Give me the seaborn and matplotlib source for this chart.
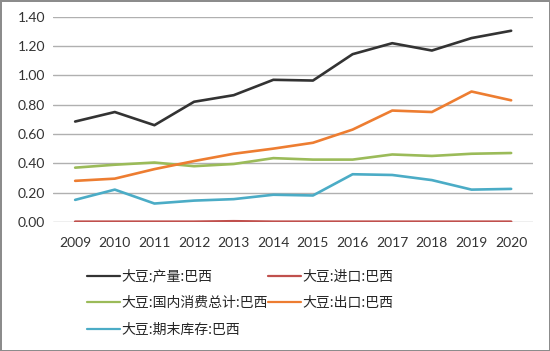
import numpy as np
import pandas as pd
import matplotlib
matplotlib.use("Agg")
import matplotlib.pyplot as plt
import seaborn as sns

# --- Data ---
years = [2009, 2010, 2011, 2012, 2013, 2014, 2015, 2016, 2017, 2018, 2019, 2020]
production = [0.685, 0.75, 0.66, 0.82, 0.865, 0.97, 0.965, 1.145, 1.22, 1.17, 1.255, 1.305]
imports = [0.001, 0.001, 0.001, 0.001, 0.004, 0.001, 0.001, 0.001, 0.001, 0.001, 0.001, 0.001]
consumption = [0.37, 0.39, 0.405, 0.38, 0.395, 0.435, 0.425, 0.425, 0.46, 0.45, 0.465, 0.47]
exports = [0.28, 0.295, 0.36, 0.415, 0.465, 0.50, 0.54, 0.63, 0.76, 0.75, 0.89, 0.83]
stocks = [0.15, 0.22, 0.125, 0.145, 0.155, 0.185, 0.18, 0.325, 0.32, 0.285, 0.22, 0.225]

series_names = ["大豆:产量:巴西", "大豆:进口:巴西", "大豆:国内消费总计:巴西",
                "大豆:出口:巴西", "大豆:期末库存:巴西"]
series_values = [production, imports, consumption, exports, stocks]
colors = ["#333333", "#c0504d", "#9bbb59", "#ed7d31", "#4bacc6"]

sns.set_theme(style="white")
plt.rcParams['font.family'] = ['Noto Sans CJK SC', 'DejaVu Sans']

rows = []
for name, vals in zip(series_names, series_values):
    for i, (yr, v) in enumerate(zip(years, vals)):
        rows.append({'idx': i, 'year': str(yr), 'value': v, 'series': name})
df = pd.DataFrame(rows)

fig = plt.figure(figsize=(5.5, 3.51), dpi=100, edgecolor="#8c8c8c", linewidth=2)
ax = fig.add_axes([0.097, 0.368, 0.872, 0.584])

sns.lineplot(data=df, x='idx', y='value', hue='series', hue_order=series_names,
             palette=colors, linewidth=1.9, ax=ax, legend=False)

ax.set_xlim(-0.55, len(years) - 0.45)
ax.set_ylim(0, 1.40)
ax.set_yticks(np.arange(0, 1.41, 0.2))
ax.set_yticklabels([f"{v:.2f}" for v in np.arange(0, 1.41, 0.2)], fontsize=10,
                   family=['Lato', 'DejaVu Sans'], color="#333333")
ax.set_xticks(range(len(years)))
ax.set_xticklabels([str(y) for y in years], fontsize=10,
                   family=['Lato', 'DejaVu Sans'], color="#333333")
ax.tick_params(axis='y', length=0, pad=6)
ax.tick_params(axis='x', length=0, pad=11)
ax.yaxis.grid(True, color="#b0b0b0", linewidth=1)
ax.set_axisbelow(True)
for s in ax.spines.values():
    s.set_visible(False)
ax.set_xlabel("")
ax.set_ylabel("")

# legend: column-major order so rows read 产量/进口, 国内消费/出口, 期末库存
order = [0, 2, 4, 1, 3]
handles = [plt.Line2D([], [], color=colors[i], linewidth=1.6) for i in order]
labels = [series_names[i] for i in order]
fig.legend(handles, labels, loc='upper left', bbox_to_anchor=(0.145, 0.252), ncol=2,
           frameon=False, fontsize=10, handlelength=2.4, handletextpad=0.1,
           columnspacing=0.0, labelspacing=0.9, borderpad=0)

fig.savefig("out.png", dpi=100)
